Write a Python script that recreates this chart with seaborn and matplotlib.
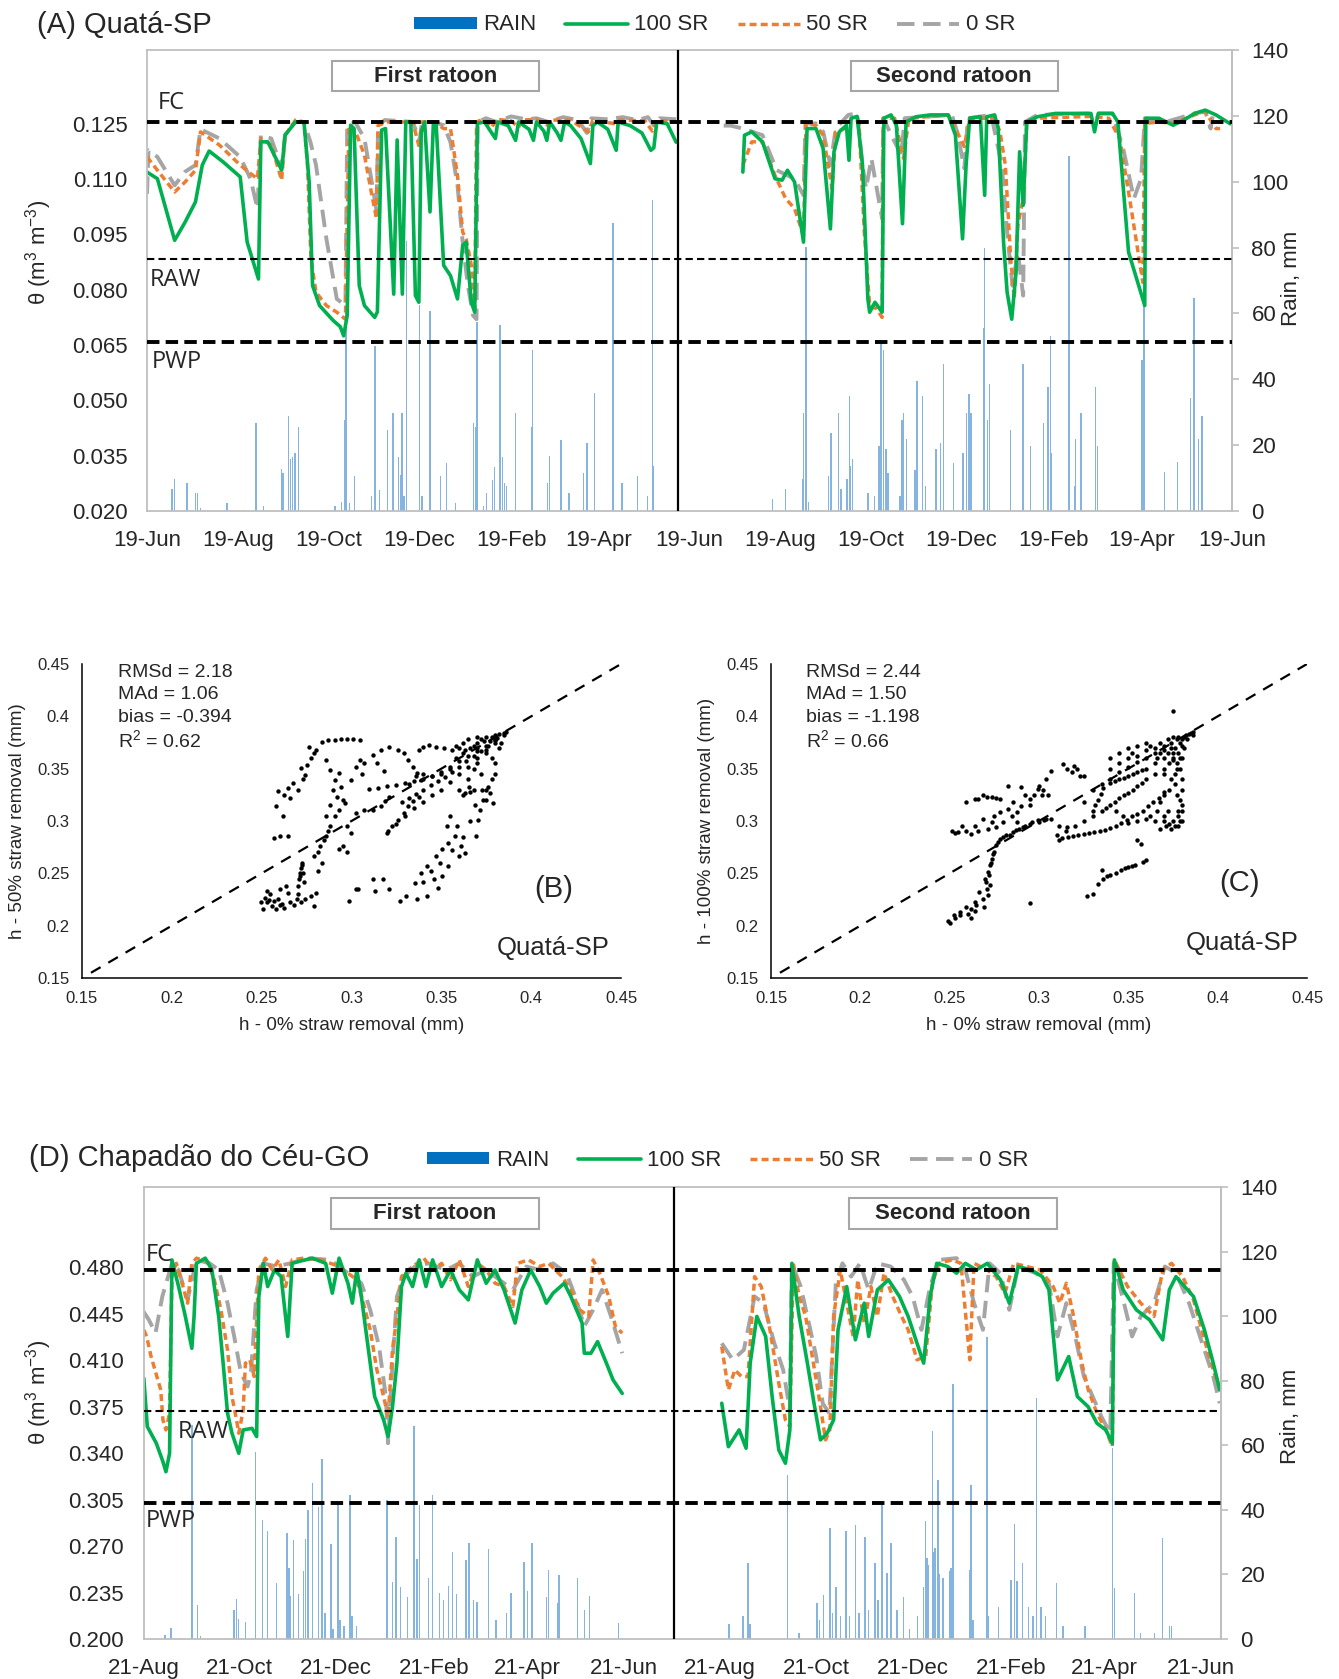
import numpy as np
import pandas as pd
import matplotlib
matplotlib.use("Agg")
import matplotlib.pyplot as plt
import matplotlib.dates as mdates
from matplotlib.patches import Rectangle, Patch
from matplotlib.lines import Line2D
import seaborn as sns

sns.set_theme(style="white")
plt.rcParams['font.family'] = ['Liberation Sans', 'DejaVu Sans']
plt.rcParams['mathtext.fontset'] = 'custom'
plt.rcParams['mathtext.rm'] = 'Liberation Sans'
plt.rcParams['mathtext.it'] = 'Liberation Sans:italic'

# ---------------- DATA ----------------
LEGEND_LABELS = ["RAIN", "100 SR", "50 SR", "0 SR"]
A_TITLE = "(A) Quatá-SP"
D_TITLE = "(D) Chapadão do Céu-GO"
A_START = "2016-06-19"
D_START = "2016-08-21"
A_YTICKS = [0.020, 0.035, 0.050, 0.065, 0.080, 0.095, 0.110, 0.125]
D_YTICKS = [0.200, 0.235, 0.270, 0.305, 0.340, 0.375, 0.410, 0.445, 0.480]
RAIN_TICKS = [0, 20, 40, 60, 80, 100, 120, 140]
A_LEVELS = {"FC": 0.1255, "RAW": 0.0884, "PWP": 0.0657}
D_LEVELS = {"FC": 0.4776, "RAW": 0.3720, "PWP": 0.3025}

# Panel A soil water content (day offset, theta)
A1_G = [(0,0.1119),(7,0.1101),(18.6,0.0934),(25.6,0.0983),(32.6,0.1038),(37.2,0.1138),(41.8,0.1176),(51.1,0.1147),
        (62.7,0.1106),(67.4,0.0929),(75,0.0829),(76.6,0.1201),(81.3,0.1201),(90.6,0.1124),(92.9,0.1219),(99.9,0.1255),
        (105.6,0.1255),(109.1,0.1092),(111.4,0.0811),(116.1,0.0757),(125.4,0.0716),(130,0.0700),(132.3,0.0675),
        (134.7,0.073),(137,0.1246),(139.3,0.1237),(142.8,0.0811),(146.3,0.0757),(153.2,0.0725),(155,0.074),
        (157.9,0.1233),(160.5,0.1237),(166,0.0788),(168.3,0.1206),(171.8,0.0788),(174.1,0.1255),(177.5,0.1255),
        (180.6,0.0784),(182.9,0.0766),(184.5,0.1228),(186.8,0.1255),(190.4,0.1011),(192.7,0.1255),(194.6,0.1246),
        (199.6,0.0866),(204.2,0.0838),(208.9,0.0775),(212.4,0.092),(214.7,0.0929),(218.2,0.0766),(220.5,0.0739),
        (222.3,0.1251),(227,0.1255),(234.4,0.121),(236,0.1255),(243,0.1245),(248,0.1205),(250,0.1255),(257,0.1235),
        (260,0.1205),(262,0.1255),(267,0.123),(269,0.1205),(271,0.1255),(276,0.1225),(278.5,0.1205),(281,0.1255),
        (285,0.1245),(292,0.121),(298.3,0.1142),(300,0.1245),(303,0.1255),(310,0.1235),(315.7,0.1178),(317,0.1255),
        (325,0.1245),(333,0.1225),(339,0.1178),(341,0.1185),(343,0.1255),(350,0.125),(356,0.120)]
A1_O = [(0,0.116),(7,0.1124),(18.6,0.1065),(25.6,0.1092),(32.6,0.1124),(36,0.1228),(48.8,0.1192),(62.7,0.1138),
        (69.7,0.1115),(74.3,0.1101),(76.6,0.121),(83.6,0.1192),(90.6,0.1097),(92.9,0.1219),(99.9,0.126),(105.6,0.1255),
        (108,0.1138),(110.3,0.0884),(113.7,0.0793),(120.7,0.0757),(127.7,0.0739),(133.5,0.072),(135.8,0.1246),
        (140.4,0.1228),(146.3,0.1165),(150.9,0.1065),(154.4,0.0993),(155.5,0.1246),(162.5,0.1255),(174.1,0.1255),
        (178.8,0.1255),(183.4,0.1183),(185,0.1255),(192.7,0.1255),(199.6,0.1237),(204.2,0.1237),(208.9,0.111),
        (212.4,0.0956),(214.7,0.0938),(218.2,0.0866),(220.5,0.0748),(221.7,0.1255),(226,0.1262),(232,0.124),
        (235,0.1262),(245,0.1258),(250,0.124),(252,0.126),(262,0.1262),(270,0.1245),(272,0.126),(285,0.126),
        (297,0.1228),(300,0.126),(315,0.125),(318,0.126),(335,0.1258),(340,0.123),(343,0.126),(356,0.1255)]
A1_Y = [(0,0.106),(1,0.1178),(7,0.116),(18.6,0.1083),(25.6,0.112),(32.6,0.1138),(36,0.1235),(48.8,0.121),(62.7,0.116),
        (69.7,0.110),(74.3,0.102),(76.6,0.1219),(83.6,0.121),(90.6,0.113),(92.9,0.122),(99.9,0.1255),(105.6,0.1255),
        (110,0.120),(113.7,0.1138),(120.7,0.0938),(127.7,0.0775),(133.5,0.0757),(134.7,0.1246),(140,0.1255),
        (146.3,0.121),(150.9,0.110),(154.4,0.1015),(155.5,0.1246),(160,0.126),(178.8,0.1255),(183.4,0.1205),
        (185,0.1255),(192.7,0.1255),(199.6,0.1246),(204.2,0.12),(208.9,0.1083),(212.4,0.0929),(215.9,0.0811),
        (219.4,0.073),(221.7,0.072),(222.5,0.1255),(228,0.1265),(235,0.1255),(245,0.127),(255,0.1262),(262,0.1265),
        (270,0.1255),(280,0.1268),(290,0.126),(296,0.1225),(299,0.1265),(310,0.1262),(320,0.1268),(330,0.126),
        (337,0.1268),(341,0.1245),(345,0.1265),(356,0.1262)]
A2_G = [(400.9,0.1119),(402,0.1219),(406.9,0.1228),(414.1,0.1201),(422.5,0.1101),(427.3,0.1097),(430.9,0.1124),
        (435.7,0.1092),(441.7,0.0929),(444.1,0.1237),(450.1,0.1237),(454.9,0.1183),(459.8,0.0965),(462.2,0.1174),
        (465.8,0.1228),(470.6,0.1246),(472.3,0.1151),(473.7,0.1265),(477.8,0.127),(481.4,0.1138),(485,0.0775),
        (486.2,0.0739),(489.8,0.0766),(494.6,0.0739),(495.8,0.1265),(500.6,0.1274),(504.2,0.1246),(508.3,0.0979),
        (510.7,0.1255),(517.5,0.1269),(527.1,0.1274),(539.1,0.1274),(543.9,0.1219),(548.7,0.0938),(551.1,0.1138),
        (553.5,0.1265),(560.7,0.1269),(563.6,0.1056),(565,0.1269),(570.3,0.1274),(572.7,0.1237),(576.3,0.0929),
        (578.7,0.0793),(581.8,0.0720),(584.7,0.0847),(587.1,0.1174),(589.5,0.1029),(591.9,0.1255),(599.1,0.1269),
        (611.1,0.1278),(635.1,0.1278),(637.5,0.1228),(640,0.1278),(649.6,0.1278),(653.2,0.1255),(660.4,0.0902),
        (671.3,0.0757),(672,0.1265),(680.8,0.1265),(690.4,0.1246),(697.6,0.126),(704.8,0.1278),(712,0.1287),
        (719.2,0.1274),(728.8,0.125)]
A2_O = [(400.9,0.1138),(406.9,0.1201),(414.1,0.1201),(422.5,0.111),(429.7,0.1047),(435.7,0.102),(441.7,0.0947),
        (443.4,0.1251),(450.1,0.1246),(454.9,0.1219),(460.9,0.1074),(463.4,0.1228),(469.4,0.1237),(474.2,0.1265),
        (479,0.1256),(482.6,0.0956),(486.2,0.0757),(491,0.0748),(494.6,0.0725),(495.3,0.1265),(503,0.1265),
        (509,0.1156),(512.6,0.1265),(539.1,0.1274),(543.9,0.1237),(549.9,0.1188),(553.5,0.1265),(570.3,0.1265),
        (573.9,0.1228),(577.5,0.1138),(581.1,0.0884),(583.5,0.0775),(585.9,0.0974),(589.5,0.1047),(591.9,0.1251),
        (599.1,0.1265),(635.1,0.127),(647.1,0.1265),(654.4,0.1210),(660.4,0.1065),(670,0.082),(671.3,0.1251),
        (680.8,0.1255),(690.4,0.1251),(704.8,0.1274),(712,0.1283),(719.2,0.1237),(722,0.1237)]
A2_Y = [(388,0.1245),(392.5,0.1245),(400.9,0.1237),(414.1,0.1219),(423.7,0.1124),(430.9,0.111),(435.7,0.1101),
        (441.7,0.1056),(443,0.1251),(450,0.1251),(455,0.1228),(459.8,0.1138),(463.4,0.1237),(471.8,0.1274),
        (477.8,0.1278),(481.4,0.1138),(483.8,0.1074),(487.4,0.1156),(491,0.1074),(494.6,0.0993),(495.3,0.1265),
        (507.4,0.1165),(509.8,0.1265),(541.5,0.1274),(545.1,0.1228),(549.9,0.1129),(552.3,0.1265),(568,0.1274),
        (575.1,0.1138),(578.7,0.0956),(582.3,0.0811),(585.9,0.0902),(589.5,0.0784),(590.7,0.1255),(599.1,0.1274),
        (635.1,0.1278),(649.6,0.1278),(656.8,0.1183),(664,0.1047),(668.8,0.1101),(671.3,0.1265),(685.7,0.1255),
        (704.8,0.1278),(712,0.1283),(715.6,0.1237),(717,0.127)]

# Panel A rain (day offset, mm)
A_RAIN = [(16.9,6.6),(18.4,9.6),(26.8,8.6),(32.8,5.6),(34,5.6),(35.8,0.8),(53.8,2.5),(73.4,26.6),(78.5,1.6),
          (90.5,12.7),(91.4,11.6),(95,28.7),(96.5,15.7),(98,16.5),(99.5,17.7),(101.9,25.6),(126.5,1.5),(131,2.6),
          (133.1,27.7),(134,61),(136.1,2.5),(139.4,10.7),(151.1,4.6),(153.5,50),(156.5,6.4),(161.9,24.6),
          (165.5,29.7),(169.4,16.5),(170.6,10.9),(171.5,29.7),(173,4.6),(174.5,82),(183.5,62.6),(185,4.6),
          (190.4,60.6),(197.6,10.6),(201.5,14.7),(207.5,2.5),(219.5,26.6),(221,25.6),(222,57.5),(226.3,1.5),
          (228.6,5.6),(232.5,9.5),(234,13.5),(237.6,56.5),(239,16.5),(240.6,8.6),(242,7.6),(248,29.7),(258.6,25.6),
          (259.5,49),(269.5,8.6),(270.7,16.8),(278.6,21.6),(284,5.6),(293.9,11.6),(296,20.7),(301.1,35.7),
          (313.5,87.4),(319.5,8.6),(330,10.6),(336.7,4.6),(340.3,94.5),(341,13.7),
          (420.8,3.6),(429.7,6.6),(440.9,9.6),(441.5,29.9),(443.4,80.3),(445,2.6),(458.4,10.6),(460.2,23.7),
          (465.1,29.9),(467,6.6),(471,9.6),(472.6,35),(473.5,13.6),(474.6,15.7),(485,5.6),(489.5,4.6),(492.4,19.8),
          (493.9,51),(495.4,49),(497.2,18.7),(498.5,11.6),(506.7,4.6),(507.9,27.7),(509.1,29.8),(511.2,21.8),
          (516.8,12.6),(518,39.5),(521.9,35),(523.9,7.6),(530.9,18.7),(533.8,20.7),(535.8,44.6),(542.6,14.7),
          (549.1,17.7),(551.5,29.9),(553,35.4),(554.4,29.9),(562.7,55.7),(563.6,80),(565.6,27.7),(566.8,38.5),
          (581.1,24.7),(589.4,44.6),(594.4,19.8),(603.2,26.6),(606.2,37.8),(607.7,53),(608.6,17.7),(620.3,107.7),
          (624,7.6),(624.9,21.8),(628.4,29.9),(638.2,37.8),(639.5,19.8),(669.5,46),(670.8,62.6),(684.5,11.7),
          (693.4,14.8),(702.3,34.2),(704.4,64.6),(707.3,21.8),(709.8,28.7)]

# Panel D soil water content (day offset, theta)
D1_G = [(0.2,0.3965),(2.4,0.360),(8.1,0.3475),(12.3,0.3336),(14.2,0.326),(16.5,0.3399),(18,0.4856),(22.2,0.4655),
        (26.5,0.4429),(30.6,0.419),(32,0.443),(33.5,0.483),(39.1,0.4869),(43.3,0.478),(47.6,0.4429),(50.4,0.4078),
        (53.2,0.37),(56,0.355),(60.3,0.3399),(63.1,0.3575),(68.7,0.3587),(71.6,0.3525),(73,0.458),(75.8,0.483),
        (78.6,0.4655),(82.9,0.478),(87.1,0.473),(91.3,0.4279),(94.1,0.483),(98.4,0.4844),(106.8,0.4869),
        (115.3,0.483),(119.5,0.4605),(123.8,0.4869),(129.4,0.468),(132.2,0.453),(135,0.478),(137.9,0.458),
        (142.1,0.4203),(146.3,0.3826),(152,0.365),(154.8,0.3525),(157.6,0.375),(160.4,0.4078),(163.3,0.4655),
        (166.1,0.4756),(170.3,0.4655),(174.5,0.4856),(178.8,0.4655),(183,0.4856),(188.7,0.4655),(194.3,0.478),
        (199.9,0.463),(205.6,0.4555),(211.3,0.4856),(216.9,0.468),(222.5,0.478),(228.2,0.463),(235.2,0.438),
        (239.5,0.463),(245.1,0.478),(250.8,0.4655),(255,0.453),(259.2,0.4605),(266.3,0.468),(270.5,0.458),
        (277.6,0.438),(279,0.4153),(283.2,0.4153),(287.4,0.424),(293,0.4078),(297.2,0.3952),(303,0.385)]
D1_O = [(0.2,0.4329),(2,0.4279),(4.8,0.4128),(10.9,0.3877),(12.3,0.365),(14.2,0.3575),(16.5,0.37),(18,0.473),
        (20.8,0.483),(25,0.4655),(27.9,0.453),(30.6,0.483),(33.5,0.4869),(40.5,0.4844),(44.8,0.4706),(49,0.448),
        (53.2,0.4178),(56,0.3826),(58.9,0.365),(60.3,0.355),(63.1,0.3725),(64.5,0.4078),(67.3,0.4103),(70.1,0.3977),
        (73,0.478),(77.2,0.4869),(81.5,0.478),(85.7,0.4856),(89.9,0.4655),(94.1,0.4856),(101.2,0.4869),
        (112.5,0.4856),(123.8,0.4806),(129.4,0.4756),(135,0.4706),(139.2,0.453),(143.5,0.4329),(147.7,0.4027),
        (152,0.3826),(153.4,0.375),(154.8,0.367),(157.6,0.4178),(160.4,0.443),(163.3,0.473),(167.5,0.478),
        (173.1,0.483),(177.4,0.4869),(183,0.478),(188.7,0.483),(194.3,0.4706),(199.9,0.4856),(205.6,0.4655),
        (211.3,0.483),(216.9,0.478),(222.5,0.468),(228.2,0.4655),(233.8,0.4505),(236.7,0.483),(243.7,0.4856),
        (250.8,0.4806),(256.4,0.483),(264.9,0.473),(270.5,0.463),(276.1,0.448),(281.8,0.443),(284.6,0.4856),
        (288.8,0.4756),(294.5,0.458),(298.7,0.4354),(303,0.4304)]
D1_Y = [(0,0.4467),(3.4,0.4404),(7.6,0.4304),(11.9,0.458),(18,0.483),(22.2,0.478),(27.9,0.4555),(33.5,0.4856),
        (41.9,0.483),(47.6,0.478),(53.2,0.453),(57.4,0.4279),(61.7,0.4002),(65.9,0.3902),(68,0.40),(71.6,0.463),
        (75.8,0.483),(84.3,0.4806),(92.7,0.483),(104,0.4869),(118.1,0.4856),(129.4,0.4756),(137.9,0.468),
        (143.5,0.448),(149.1,0.4203),(153.4,0.3826),(154.8,0.3475),(157.6,0.4078),(160.4,0.458),(164.7,0.473),
        (171.7,0.4806),(180.2,0.483),(191.5,0.478),(199.9,0.483),(208.4,0.473),(216.9,0.478),(225.3,0.4706),
        (233.8,0.463),(242.3,0.4806),(250.8,0.478),(259.2,0.483),(267.7,0.4756),(273.3,0.458),(279,0.4354),
        (284.6,0.448),(290.2,0.463),(295.9,0.443),(303,0.4153)]
D2_G = [(366,0.3776),(370.2,0.3449),(377,0.3575),(381.4,0.3437),(384,0.4078),(388.2,0.443),(393.8,0.4279),
        (397.9,0.3826),(402.1,0.3424),(406.3,0.3324),(409.1,0.3575),(410.4,0.483),(415,0.443),(420.2,0.4078),
        (424.4,0.3776),(428.5,0.35),(432.7,0.355),(436.8,0.365),(439.6,0.4329),(445.1,0.4655),(450.6,0.4254),
        (456.2,0.453),(459,0.4279),(464.5,0.463),(471.5,0.4706),(478.5,0.458),(484,0.443),(489.6,0.4228),
        (493.8,0.4078),(497.9,0.458),(502.1,0.483),(509,0.4806),(514.6,0.4756),(520.2,0.483),(527.1,0.478),
        (534.1,0.483),(542.4,0.4706),(548,0.453),(553.6,0.4806),(561.9,0.478),(568.9,0.473),(573.1,0.463),
        (578.5,0.3952),(585.6,0.4128),(591.1,0.3826),(597.9,0.375),(603.5,0.3625),(609.1,0.3575),(613.2,0.3474),
        (614.5,0.4856),(620.1,0.463),(628.4,0.448),(636.8,0.4404),(645.1,0.4254),(649.3,0.463),(653.5,0.473),
        (659,0.4655),(664.6,0.458),(671.5,0.4329),(677.1,0.4078),(681.2,0.3877)]
D2_O = [(366,0.4203),(370.2,0.3877),(374.3,0.4027),(378.5,0.3977),(382.6,0.3977),(386.8,0.473),(391,0.4655),
        (396.5,0.4329),(402.1,0.3927),(406.3,0.365),(409.1,0.36),(411.3,0.483),(415,0.458),(419.1,0.443),
        (423.3,0.4128),(427.5,0.3826),(431.7,0.35),(434.4,0.3575),(436.8,0.443),(441,0.478),(445.1,0.453),
        (449.2,0.4279),(452.1,0.4706),(456.2,0.438),(460.4,0.4655),(464.5,0.443),(468.7,0.4756),(474.2,0.458),
        (479.8,0.443),(484,0.4329),(489.6,0.4103),(495.1,0.4128),(499.3,0.468),(503.5,0.483),(511.8,0.4856),
        (517.4,0.483),(523,0.4103),(525.7,0.483),(534.1,0.478),(539.7,0.473),(545.2,0.4605),(550.8,0.483),
        (559.1,0.4806),(567.5,0.478),(575.8,0.4655),(580,0.453),(584.1,0.468),(588.3,0.4454),(593.9,0.4078),
        (598,0.3877),(603.5,0.37),(609.1,0.3575),(613.2,0.345),(614.5,0.4856),(622.9,0.4655),(631.2,0.453),
        (639.6,0.443),(645.1,0.478),(650.7,0.483),(657.7,0.473),(664.6,0.4555),(671.5,0.4254),(677.1,0.4027),
        (681.2,0.3877)]
D2_Y = [(366,0.4228),(373,0.4103),(380,0.4178),(386.8,0.458),(392.4,0.453),(399.3,0.4228),(404.9,0.4027),
        (409.1,0.3726),(410.4,0.483),(416,0.4655),(420.2,0.443),(425.8,0.4128),(429.9,0.3776),(434.1,0.37),
        (438.2,0.468),(442.4,0.483),(447.9,0.473),(453.5,0.483),(459,0.463),(464.5,0.483),(472.9,0.4806),
        (481.3,0.4706),(486.8,0.458),(492.4,0.4329),(497.9,0.4655),(503.5,0.4856),(514.6,0.4869),(520.2,0.478),
        (525.7,0.453),(531.3,0.4329),(535.5,0.483),(542.4,0.4756),(548,0.448),(553.6,0.4806),(564.8,0.4756),
        (573.1,0.468),(578.5,0.4279),(584.1,0.453),(589.7,0.4279),(595.2,0.3977),(600.8,0.3826),(606.3,0.3675),
        (611.9,0.355),(614.1,0.483),(620.1,0.4555),(625.7,0.4279),(631.2,0.443),(639.6,0.453),(646.5,0.4806),
        (653.5,0.4756),(661.8,0.453),(670.1,0.4228),(677.1,0.3977),(681.2,0.3776)]

# Panel D rain (day offset, mm)
D_RAIN = [(13.7,1.3),(17.4,3.3),(30.6,66.3),(34.3,10.5),(36,1),(57.4,9),(58.8,12.3),(60.3,6.1),(64.5,5.4),(71,58),
          (75.2,36.9),(78.6,33.4),(84.3,17.4),(90.7,32.7),(92,21.9),(93.2,13.3),(95.1,30.8),(98,14),(101.2,21.2),
          (102.5,31),(104,39.9),(106.8,48.2),(110.8,40.9),(113,55.9),(115,8),(118.7,29.4),(120,3),(123.2,41.8),
          (124.5,6),(127,4),(130.8,44.6),(132,7),(135,4),(154.2,43),(157.6,17.7),(159.9,31.7),(162.7,16.2),
          (167.1,13),(171.2,66),(173.2,24.7),(174.6,41.5),(180.3,18.8),(183,44.6),(187.2,14.1),(190,12),
          (193.2,16.4),(195.7,27),(198,14),(204.2,24.5),(206.1,29.7),(209,12),(211,11.5),(218.3,27.8),(223,6),
          (229.8,8),(232.6,14.1),(240.9,24),(243.2,15),(245.9,29.7),(255,13),(256.4,21.3),(262,11.3),(262.9,19.8),
          (274.7,19),(279,9),(282.4,13.3),(300.7,5.1),
          (370.7,4.8),(379.4,7),(382.7,23.4),(384,4.8),(407.6,50.8),(415,2),(426.2,11),(428,6),(430.5,13.6),
          (434.6,34.5),(436,8),(438.2,16.2),(441,7),(444.6,33.4),(447,7),(450.7,35.3),(453,8),(456.8,31.5),(459,9),
          (462.9,23.4),(465,12),(467.4,42),(470.5,20.5),(473,29.6),(477,9),(481,13.1),(485,3),(490,7),(493.7,16.2),
          (495.1,36.7),(496,25),(497,23),(499.3,64.5),(500,27),(501.1,28.1),(502.9,49.2),(504,20),(506,19),
          (510,21.2),(511,22),(512.3,79),(522.9,21.3),(523.7,47.7),(525,6),(534,93.6),(535,7),(541,10),(549,18.3),
          (551.3,35.6),(553,18),(556.5,23.4),(560,10),(563,7),(565.1,74.5),(568,10),(571,7),(577.9,17.4),(582,4),
          (596,4),(613.2,59.1),(614.6,15.7),(627.1,14.1),(631,2),(640,2),(645.1,31.2),(649.3,3.9),(650.5,4)]

# Panel B scatter: h 0% SR (x) vs h 50% SR (y)
B_POINTS = [(0.2766,0.3709),(0.2836,0.3756),(0.2906,0.3778),(0.2977,0.3782),(0.3047,0.3772),(0.2789,0.3646),
    (0.2777,0.3598),(0.2754,0.3535),(0.2719,0.3503),(0.2800,0.3680),(0.2870,0.3770),(0.2940,0.3780),(0.3010,0.3780),
    (0.2742,0.3440),(0.2730,0.3400),(0.2578,0.3139),(0.2590,0.3282),(0.2672,0.3361),(0.2648,0.3313),(0.2625,0.3250),
    (0.2660,0.3220),(0.2601,0.2854),(0.2648,0.2854),(0.2566,0.2838),(0.2700,0.3300),(0.2620,0.3050),(0.2496,0.2222),
    (0.2519,0.2269),(0.2531,0.2222),(0.2555,0.2190),(0.2578,0.2158),(0.2590,0.2253),(0.2613,0.2206),(0.2648,0.2316),
    (0.2660,0.2222),(0.2695,0.2253),(0.2719,0.2222),(0.2742,0.2253),(0.2789,0.2190),(0.2777,0.2285),(0.2601,0.2348),
    (0.2531,0.2332),(0.2637,0.2380),(0.2508,0.2158),(0.2545,0.2300),(0.2570,0.2240),(0.2625,0.2170),(0.2680,0.2200),
    (0.2705,0.2300),(0.2540,0.2250),(0.2600,0.2200),(0.2707,0.2443),(0.2712,0.2506),(0.2719,0.2554),(0.2724,0.2600),
    (0.2730,0.2500),(0.2700,0.2380),(0.2735,0.2420),(0.2715,0.2470),(0.2726,0.2580),(0.2789,0.2665),(0.2824,0.2759),
    (0.2848,0.2823),(0.2859,0.2854),(0.2883,0.2949),(0.2906,0.3044),(0.2930,0.3108),(0.2965,0.3171),(0.3023,0.3076),
    (0.3070,0.3108),(0.3117,0.3108),(0.3164,0.3139),(0.3187,0.3187),(0.3211,0.3234),(0.3199,0.2886),(0.3223,0.2949),
    (0.3258,0.3013),(0.3293,0.3076),(0.3316,0.3139),(0.3340,0.3187),(0.3375,0.3234),(0.2812,0.2700),(0.2870,0.2900),
    (0.2859,0.3582),(0.2883,0.3487),(0.2906,0.3392),(0.2918,0.3234),(0.2930,0.3456),(0.2941,0.3329),(0.2953,0.3203),
    (0.2976,0.2949),(0.3000,0.2886),(0.2953,0.2759),(0.2930,0.2728),(0.2976,0.2700),(0.2836,0.2601),(0.2812,0.2522),
    (0.2801,0.2316),(0.3000,0.3392),(0.3023,0.3519),(0.3047,0.3582),(0.3070,0.3550),(0.3058,0.3450),(0.2895,0.3300),
    (0.2880,0.3150),(0.2860,0.3050),(0.3117,0.3630),(0.3164,0.3677),(0.3211,0.3703),(0.3258,0.3677),(0.3293,0.3646),
    (0.3316,0.3582),(0.3340,0.3519),(0.3363,0.3456),(0.3387,0.3392),(0.3375,0.3677),(0.3398,0.3709),(0.3433,0.3725),
    (0.3469,0.3709),(0.3516,0.3693),(0.3562,0.3677),(0.3140,0.3550),(0.3180,0.3480),(0.3269,0.2237),(0.3305,0.2285),
    (0.3363,0.2253),(0.3422,0.2285),(0.3481,0.2364),(0.3351,0.2411),(0.3387,0.2506),(0.3422,0.2570),(0.3469,0.2665),
    (0.3504,0.2728),(0.3539,0.2791),(0.3574,0.2854),(0.3586,0.2949),(0.3551,0.3044),(0.3530,0.2950),(0.3609,0.2759),
    (0.3633,0.2696),(0.3598,0.2665),(0.3539,0.2570),(0.3504,0.2475),(0.3457,0.2443),(0.3691,0.2854),(0.3703,0.3013),
    (0.3715,0.3108),(0.3750,0.3203),(0.3785,0.3171),(0.3773,0.3266),(0.3762,0.3329),(0.3726,0.3297),(0.3680,0.3297),
    (0.3656,0.3329),(0.3633,0.3266),(0.3400,0.2420),(0.3445,0.2520),(0.3490,0.2600),(0.3560,0.2720),(0.3620,0.2850),
    (0.3660,0.3000),(0.3690,0.3150),(0.2988,0.2237),(0.3023,0.2348),(0.3035,0.2348),(0.3117,0.2443),(0.3176,0.2443),
    (0.3211,0.2348),(0.3129,0.2332),(0.3100,0.3310),(0.3150,0.3320),(0.3200,0.3330),(0.3250,0.3340),(0.3300,0.3360),
    (0.3350,0.3380),(0.3400,0.3400),(0.3450,0.3430),(0.3500,0.3470),(0.3550,0.3520),(0.3600,0.3570),(0.3650,0.3620),
    (0.3700,0.3670),(0.3750,0.3720),(0.3800,0.3770),(0.3850,0.3820),(0.3280,0.3180),(0.3320,0.3220),(0.3360,0.3260),
    (0.3400,0.3300),(0.3440,0.3340),(0.3480,0.3380),(0.3520,0.3420),(0.3560,0.3470),(0.3600,0.3520),(0.3640,0.3570),
    (0.3680,0.3620),(0.3720,0.3670),(0.3760,0.3720),(0.3800,0.3770),(0.3320,0.3350),(0.3360,0.3430),(0.3400,0.3450),
    (0.3450,0.3430),(0.3500,0.3450),(0.3550,0.3500),(0.3580,0.3600),(0.3620,0.3650),(0.3660,0.3700),(0.3700,0.3750),
    (0.3205,0.2900),(0.3250,0.2970),(0.3300,0.3050),(0.3350,0.3120),(0.3400,0.3180),(0.3450,0.3250),(0.3500,0.3300),
    (0.3550,0.3370),(0.3600,0.3450),(0.3650,0.3520),(0.3700,0.3600),(0.3750,0.3680),(0.3800,0.3750),(0.3600,0.3700),
    (0.3620,0.3750),(0.3650,0.3780),(0.3680,0.3720),(0.3700,0.3700),(0.3720,0.3780),(0.3750,0.3800),(0.3780,0.3800),
    (0.3800,0.3820),(0.3820,0.3830),(0.3850,0.3840),(0.3860,0.3850),(0.3750,0.3650),(0.3780,0.3600),(0.3800,0.3550),
    (0.3800,0.3450),(0.3780,0.3400),(0.3820,0.3700),(0.3830,0.3750),(0.3700,0.3550),(0.3720,0.3450),(0.3680,0.3500),
    (0.3650,0.3400),(0.3600,0.3300),(0.3620,0.3250),(0.3660,0.3280),(0.3750,0.3300),(0.3730,0.3200),(0.3580,0.3720),
    (0.3630,0.3680),(0.3770,0.3760),(0.3810,0.3790),(0.3700,0.3800),(0.3740,0.3760)]

# Panel C scatter: h 0% SR (x) vs h 100% SR (y)
C_POINTS = [(0.2488,0.2041),(0.2524,0.2098),(0.2559,0.2130),(0.2594,0.2178),(0.2618,0.2162),(0.2641,0.2225),
    (0.2665,0.2321),(0.2688,0.2257),(0.2712,0.2289),(0.2724,0.2385),(0.2700,0.2448),(0.2712,0.2512),(0.2724,0.2575),
    (0.2735,0.2639),(0.2747,0.2703),(0.2759,0.2766),(0.2782,0.2830),(0.2818,0.2862),(0.2853,0.2894),(0.2888,0.2925),
    (0.2924,0.2957),(0.2959,0.2989),(0.2994,0.3005),(0.3029,0.3005),(0.3065,0.3021),(0.2530,0.2070),(0.2560,0.2100),
    (0.2600,0.2110),(0.2618,0.2073),(0.2640,0.2140),(0.2690,0.2180),(0.2500,0.2030),(0.2650,0.2200),(0.2710,0.2350),
    (0.2705,0.2420),(0.2718,0.2480),(0.2730,0.2600),(0.2740,0.2680),(0.2770,0.2800),(0.2800,0.2850),(0.2840,0.2870),
    (0.2870,0.2910),(0.2910,0.2940),(0.2950,0.2970),(0.3000,0.2990),(0.3040,0.3020),(0.2512,0.2909),(0.2547,0.2894),
    (0.2571,0.2957),(0.2594,0.3180),(0.2641,0.3212),(0.2688,0.3244),(0.2735,0.3228),(0.2782,0.3212),(0.2641,0.2957),
    (0.2688,0.3021),(0.2735,0.2989),(0.2782,0.3084),(0.2829,0.3116),(0.2853,0.3180),(0.2876,0.3084),(0.2900,0.3148),
    (0.2924,0.3244),(0.2947,0.3212),(0.2971,0.3244),(0.3000,0.3339),(0.3018,0.3244),(0.3053,0.3244),(0.3065,0.3482),
    (0.2829,0.3339),(0.2900,0.3323),(0.2994,0.3307),(0.2618,0.2878),(0.2712,0.2925),(0.2760,0.2940),(0.2800,0.2990),
    (0.2876,0.2989),(0.2660,0.3210),(0.2710,0.3230),(0.2760,0.3220),(0.2660,0.2900),(0.2750,0.3050),(0.2850,0.3050),
    (0.2950,0.3150),(0.3040,0.3400),(0.3020,0.3300),(0.2530,0.2890),(0.2590,0.2900),(0.3135,0.3546),(0.3159,0.3498),
    (0.3182,0.3466),(0.3194,0.3530),(0.3229,0.3434),(0.3253,0.3434),(0.3112,0.2957),(0.3159,0.2941),(0.3100,0.2862),
    (0.3210,0.3500),(0.311,0.282),(0.316,0.285),(0.322,0.287),(0.328,0.289),(0.334,0.29),(0.34,0.293),(0.346,0.298),
    (0.352,0.305),(0.358,0.31),(0.364,0.318),(0.37,0.328),(0.374,0.34),(0.377,0.35),(0.379,0.36),(0.381,0.37),
    (0.313,0.284),(0.319,0.286),(0.325,0.288),(0.331,0.2895),(0.337,0.291),(0.343,0.295),(0.349,0.301),(0.355,0.307),
    (0.361,0.314),(0.367,0.322),(0.315,0.29),(0.32,0.295),(0.325,0.3),(0.33,0.305),(0.335,0.31),(0.34,0.315),
    (0.345,0.322),(0.35,0.327),(0.355,0.333),(0.36,0.34),(0.365,0.345),(0.37,0.35),(0.375,0.358),(0.3375,0.3125),
    (0.3425,0.318),(0.3475,0.325),(0.3525,0.33),(0.3575,0.336),(0.33,0.31),(0.333,0.32),(0.336,0.332),(0.34,0.336),
    (0.345,0.34),(0.35,0.343),(0.355,0.347),(0.36,0.35),(0.365,0.355),(0.37,0.36),(0.375,0.365),(0.38,0.372),
    (0.383,0.378),(0.386,0.382),(0.3315,0.315),(0.3345,0.326),(0.3425,0.338),(0.3475,0.3415),(0.3525,0.345),
    (0.3575,0.3485),(0.325,0.318),(0.33,0.33),(0.335,0.335),(0.34,0.34),(0.345,0.347),(0.35,0.352),(0.355,0.356),
    (0.36,0.36),(0.365,0.365),(0.365,0.37),(0.368,0.375),(0.37,0.372),(0.372,0.378),(0.374,0.375),(0.375,0.38),
    (0.376,0.37),(0.377,0.378),(0.378,0.38),(0.379,0.375),(0.38,0.378),(0.381,0.38),(0.382,0.382),(0.384,0.383),
    (0.385,0.384),(0.386,0.385),(0.372,0.365),(0.375,0.36),(0.378,0.365),(0.38,0.36),(0.377,0.355),(0.373,0.355),
    (0.37,0.345),(0.376,0.345),(0.366,0.36),(0.368,0.365),(0.362,0.372),(0.36,0.375),(0.37,0.368),(0.374,0.37),
    (0.378,0.295),(0.379,0.3),(0.378,0.305),(0.38,0.31),(0.38,0.315),(0.379,0.32),(0.38,0.33),(0.38,0.34),
    (0.379,0.35),(0.376,0.295),(0.373,0.297),(0.37,0.3),(0.37,0.305),(0.372,0.31),(0.365,0.3),(0.36,0.302),
    (0.355,0.3),(0.35,0.298),(0.347,0.305),(0.343,0.31),(0.368,0.292),(0.374,0.292),(0.377,0.325),(0.376,0.335),
    (0.38,0.3),(0.378,0.31),(0.375,0.3),(0.371,0.295),(0.366,0.31),(0.362,0.305),(0.35,0.37),(0.355,0.372),
    (0.36,0.368),(0.34,0.36),(0.345,0.365),(0.35,0.36),(0.355,0.362),(0.373,0.33),(0.37,0.325),(0.368,0.318),
    (0.345,0.355),(0.34,0.35),(0.352,0.365),(0.327,0.228),(0.33,0.23),(0.333,0.24),(0.336,0.245),(0.34,0.248),
    (0.343,0.25),(0.346,0.253),(0.35,0.256),(0.354,0.258),(0.358,0.261),(0.36,0.263),(0.335,0.253),(0.338,0.247),
    (0.348,0.255),(0.352,0.257),(0.295,0.222),(0.375,0.405),(0.357,0.278),(0.355,0.282)]

B_STATS = ["RMSd = 2.18", "MAd = 1.06", "bias = -0.394", "R$^2$ = 0.62"]
C_STATS = ["RMSd = 2.44", "MAd = 1.50", "bias = -1.198", "R$^2$ = 0.66"]
SCATTER_TICKS = [0.15, 0.2, 0.25, 0.3, 0.35, 0.4, 0.45]

# ---------------- STYLE ----------------
GREEN = '#00B050'
ORANGE = '#ED7D31'
GRAY = '#A5A5A5'
RAIN_C = '#5B9BD5'
FRAME = '#BFBFBF'
W, H = 1339, 1679

fig = plt.figure(figsize=(W / 100, H / 100), dpi=100)


def frac_rect(l, t, r, b):
    return [l / W, 1 - b / H, (r - l) / W, (b - t) / H]


def to_df(points, start):
    d = np.array([p[0] for p in points])
    v = np.array([p[1] for p in points])
    return pd.DataFrame({"date": pd.Timestamp(start) + pd.to_timedelta(d, unit="D"), "val": v})


def ts_panel(rect, start, ndays, halves, rain, yticks, ylim, levels, lvl_text, divider_day,
             box_rects, tick_day, tick_months, ylab_pos, rlab_pos):
    ax = fig.add_axes(rect)
    ax2 = ax.twinx()
    ax.set_zorder(ax2.get_zorder() + 1)
    ax.patch.set_visible(False)
    t0 = pd.Timestamp(start)
    # rain
    rd = t0 + pd.to_timedelta([p[0] for p in rain], unit="D")
    ax2.bar(rd, [p[1] for p in rain], width=0.9, color=RAIN_C, alpha=0.75, linewidth=0)
    ax2.set_ylim(0, 140)
    ax2.set_yticks(RAIN_TICKS)
    # lines
    styles = {"G": dict(color=GREEN, lw=2.6, linestyle='-'),
              "O": dict(color=ORANGE, lw=2.5, linestyle=(0, (2.0, 1.2))),
              "Y": dict(color=GRAY, lw=2.8, linestyle=(0, (4.5, 2.2)))}
    for key in ["Y", "O", "G"]:
        for pts in halves[key]:
            df = to_df(pts, start)
            sns.lineplot(data=df, x="date", y="val", ax=ax, estimator=None, sort=False, **styles[key])
    # reference levels
    ax.axhline(levels["FC"], color='black', lw=2.8, linestyle=(0, (3.2, 1.6)), zorder=5)
    ax.axhline(levels["PWP"], color='black', lw=2.8, linestyle=(0, (3.2, 1.6)), zorder=5)
    ax.axhline(levels["RAW"], color='black', lw=1.5, linestyle=(0, (3.5, 2.0)), zorder=5)
    ax.axvline(t0 + pd.Timedelta(days=divider_day), color='black', lw=1.6, zorder=6)
    for name, (dx, yv) in lvl_text.items():
        ax.text(t0 + pd.Timedelta(days=dx), yv, name, fontsize=17, family=['Open Sans', 'DejaVu Sans'],
                ha='left', va='center', zorder=7)
    # ratoon boxes
    for (x0, y0, w, h), label in zip(box_rects, ["First ratoon", "Second ratoon"]):
        ax.add_patch(Rectangle((x0, y0), w, h, transform=ax.transAxes, facecolor='white',
                               edgecolor='#A6A6A6', lw=1.5, zorder=8))
        ax.text(x0 + w / 2, y0 + h / 2, label, transform=ax.transAxes, ha='center', va='center',
                fontsize=16, fontweight='bold', zorder=9)
    ax.set_xlim(t0, t0 + pd.Timedelta(days=ndays))
    ax.set_ylim(*ylim)
    ax.set_yticks(yticks)
    ax.set_yticklabels([f"{v:.3f}" for v in yticks])
    ax.xaxis.set_major_locator(mdates.MonthLocator(bymonth=tick_months, bymonthday=tick_day))
    ax.xaxis.set_major_formatter(mdates.DateFormatter('%d-%b'))
    ax.set_xlabel('')
    ax.set_ylabel('')
    ax.tick_params(axis='y', length=0, labelsize=16, pad=14)
    ax.tick_params(axis='x', length=0, labelsize=16, pad=14)
    ax2.tick_params(axis='y', length=5, width=1.2, color=FRAME, labelsize=16, pad=9, direction='out')
    for sp in ax.spines.values():
        sp.set_color(FRAME)
        sp.set_linewidth(1.3)
        sp.set_visible(True)
    for name, sp in ax2.spines.items():
        sp.set_visible(name == 'right')
        sp.set_color(FRAME)
        sp.set_linewidth(1.3)
    ax.set_ylabel(r"θ (m$^3$ m$^{-3}$)", fontsize=16)
    ax.yaxis.set_label_coords(*ylab_pos)
    ax2.set_ylabel("Rain, mm", fontsize=16)
    ax2.yaxis.set_label_coords(*rlab_pos)
    return ax, ax2


def legend_at(x, y):
    handles = [Patch(facecolor='#0070C0', edgecolor='none'),
               Line2D([], [], color=GREEN, lw=2.6),
               Line2D([], [], color=ORANGE, lw=2.5, linestyle=(0, (2.0, 1.2))),
               Line2D([], [], color=GRAY, lw=2.8, linestyle=(0, (4.5, 2.2)))]
    fig.legend(handles, LEGEND_LABELS, loc='center', bbox_to_anchor=(x, y), ncol=4, frameon=False,
               fontsize=16, handlelength=2.8, handleheight=0.45, handletextpad=0.3, columnspacing=1.3)


# ---------------- PANEL A ----------------
ts_panel(frac_rect(147, 50, 1232, 511), A_START, 730,
         {"G": [A1_G, A2_G], "O": [A1_O, A2_O], "Y": [A1_Y, A2_Y]},
         A_RAIN, A_YTICKS, (0.020, 0.145), A_LEVELS,
         {"FC": (7, 0.1305), "RAW": (2, 0.0827), "PWP": (3.5, 0.0605)}, 357,
         [(0.1706, 0.911, 0.1908, 0.065), (0.6484, 0.911, 0.1908, 0.065)],
         19, [6, 8, 10, 12, 2, 4], (-0.086, 0.56), (1.045, 0.504))
fig.text(37 / W, 1 - 25 / H, A_TITLE, fontsize=21, ha='left', va='center')
legend_at(0.534, 1 - 25 / H)

# ---------------- PANEL D ----------------
ts_panel(frac_rect(143.5, 1187, 1221, 1639), D_START, 682,
         {"G": [D1_G, D2_G], "O": [D1_O, D2_O], "Y": [D1_Y, D2_Y]},
         D_RAIN, D_YTICKS, (0.200, 0.5405), D_LEVELS,
         {"FC": (1.4, 0.489), "RAW": (21.7, 0.3558), "PWP": (1.4, 0.2888)}, 336,
         [(0.174, 0.908, 0.1928, 0.0687), (0.655, 0.908, 0.1928, 0.0687)],
         21, [8, 10, 12, 2, 4, 6], (-0.083, 0.545), (1.055, 0.493))
fig.text(29 / W, 1 - 1158 / H, D_TITLE, fontsize=21, ha='left', va='center')
legend_at(0.5436, 1 - 1160 / H)


# ---------------- PANELS B, C ----------------
def scatter_panel(rect, points, ylabel, stats, tag, tag_pos, site_pos):
    ax = fig.add_axes(rect)
    df = pd.DataFrame({"x": [p[0] for p in points], "y": [p[1] for p in points]})
    ax.plot([0.155, 0.45], [0.155, 0.45], color='black', lw=1.6, linestyle=(0, (5, 4)), zorder=1)
    sns.scatterplot(data=df, x="x", y="y", ax=ax, color='black', s=10, linewidth=0, zorder=3)
    ax.set_xlim(0.15, 0.45)
    ax.set_ylim(0.15, 0.45)
    ax.set_xticks(SCATTER_TICKS)
    ax.set_yticks(SCATTER_TICKS)
    ax.set_xticklabels([f"{v:g}" for v in SCATTER_TICKS])
    ax.set_yticklabels([f"{v:g}" for v in SCATTER_TICKS])
    for name, sp in ax.spines.items():
        sp.set_visible(name in ('left', 'bottom'))
        sp.set_color('black')
        sp.set_linewidth(1.1)
    ax.tick_params(axis='both', length=5, width=1.1, color='black', direction='out', labelsize=12, pad=4)
    ax.set_xlabel("h - 0% straw removal (mm)", fontsize=13.5, labelpad=8)
    ax.set_ylabel(ylabel, fontsize=13.5, labelpad=8)
    for s, yy in zip(stats, [0.972, 0.902, 0.830, 0.759]):
        ax.text(0.066, yy, s, transform=ax.transAxes, fontsize=14, ha='left', va='center')
    ax.text(tag_pos[0], tag_pos[1], tag, transform=ax.transAxes, fontsize=21, ha='center', va='center')
    ax.text(site_pos[0], site_pos[1], "Quatá-SP", transform=ax.transAxes, fontsize=18.5, ha='center', va='center')
    return ax


scatter_panel(frac_rect(82, 664, 621, 978), B_POINTS, "h - 50% straw removal (mm)", B_STATS, "(B)",
              (0.875, 0.283), (0.875, 0.0955))
scatter_panel(frac_rect(771, 664, 1307, 978), C_POINTS, "h - 100% straw removal (mm)", C_STATS, "(C)",
              (0.874, 0.301), (0.88, 0.112))

fig.savefig("out.png", dpi=100)
